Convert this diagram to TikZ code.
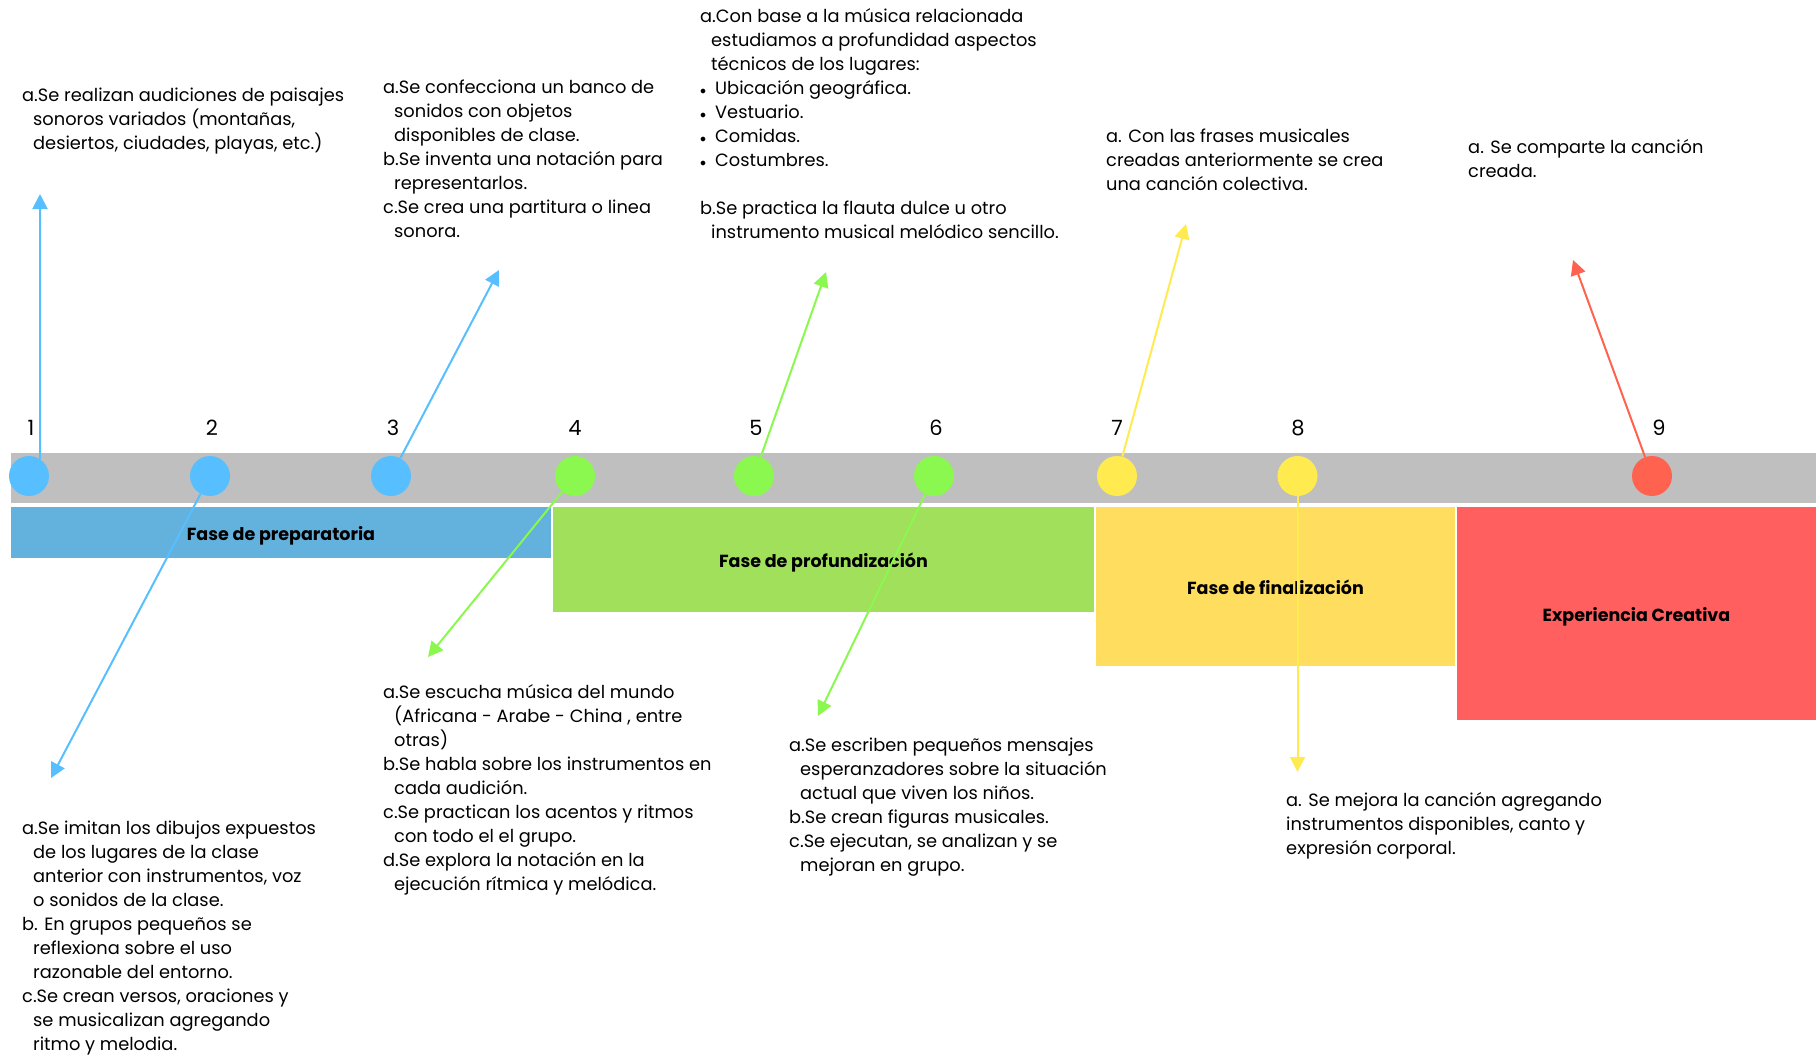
\documentclass[tikz,border=0pt]{standalone}
\usepackage{fontspec}
\setmainfont{Poppins}
\usepackage{xcolor}
\usepackage{tikz}
\usetikzlibrary{arrows.meta}

\definecolor{barra}{HTML}{BFBFBF}
\definecolor{azul}{HTML}{57BEFF}
\definecolor{azulfase}{HTML}{63B1DD}
\definecolor{verde}{HTML}{8AF84E}
\definecolor{verdefase}{HTML}{A0E05B}
\definecolor{amarillo}{HTML}{FFEB50}
\definecolor{amarillofase}{HTML}{FFDD5E}
\definecolor{rojo}{HTML}{FF6350}
\definecolor{rojofase}{HTML}{FF5F5F}

\newcommand{\ind}{\hspace*{11pt}}
\newcommand{\bul}{\makebox[15pt][l]{\fontsize{13}{13}\selectfont$\bullet$}}

\begin{document}
\begin{tikzpicture}[x=1pt,y=-1pt]
\tikzstyle{hito}=[circle, minimum size=40pt, inner sep=0pt]
\tikzstyle{numero}=[inner sep=0pt, font=\fontsize{21}{21}\selectfont]
\tikzstyle{fase}=[inner sep=0pt, text height=17.5pt, text depth=2pt, font=\fontsize{17.5}{20}\selectfont\bfseries]
\tikzstyle{texto}=[anchor=north west, align=left, inner sep=0pt, font=\fontsize{17.8}{24}\selectfont, execute at begin node=\strut]
\tikzstyle{flecha}=[line width=2pt, -{Triangle[length=15pt,width=15pt]}]

\useasboundingbox (0,0) rectangle (1820,1055);

\fill[barra] (11,453) rectangle (1816,503);

\node[fase, fill=azulfase, minimum width=540pt, minimum height=51pt] (f1) at (281,532.5) {Fase de preparatoria};
\node[fase, fill=verdefase, minimum width=541pt, minimum height=105pt] (f2) at (823.5,559.5) {Fase de profundización};
\node[fase, fill=amarillofase, minimum width=359pt, minimum height=159pt] (f3) at (1275.5,586.5) {Fase de finalización};
\node[fase, fill=rojofase, minimum width=359pt, minimum height=213pt] (f4) at (1636.5,613.5) {Experiencia Creativa};

\node[hito, fill=azul] (c1) at (29,476) {};
\node[hito, fill=azul] (c2) at (210,476) {};
\node[hito, fill=azul] (c3) at (391,476) {};
\node[hito, fill=verde] (c4) at (575,476) {};
\node[hito, fill=verde] (c5) at (754,476) {};
\node[hito, fill=verde] (c6) at (934,476) {};
\node[hito, fill=amarillo] (c7) at (1117,476) {};
\node[hito, fill=amarillo] (c8) at (1297.5,476) {};
\node[hito, fill=rojo] (c9) at (1652,476) {};

\node[numero] (n1) at (31,428) {1};
\node[numero] (n2) at (212,428) {2};
\node[numero] (n3) at (393,428) {3};
\node[numero] (n4) at (575,428) {4};
\node[numero] (n5) at (756,428) {5};
\node[numero] (n6) at (936,428) {6};
\node[numero] (n7) at (1117,428) {7};
\node[numero] (n8) at (1298,428) {8};
\node[numero] (n9) at (1659,428) {9};

\node[texto] (a1) at (22,88) {a.Se realizan audiciones de paisajes\\
\ind sonoros variados (montañas,\\
\ind desiertos, ciudades, playas, etc.)};
\node[texto] (a2) at (383,79.8) {a.Se confecciona un banco de\\
\ind sonidos con objetos\\
\ind disponibles de clase.\\
b.Se inventa una notación para\\
\ind representarlos.\\
c.Se crea una partitura o linea\\
\ind sonora.};
\node[texto] (a3) at (700,7.9) {a.Con base a la música relacionada\\
\ind estudiamos a profundidad aspectos\\
\ind técnicos de los lugares:\\
\bul Ubicación geográfica.\\
\bul Vestuario.\\
\bul Comidas.\\
\bul Costumbres.\\[24pt]
b.Se practica la flauta dulce u otro\\
\ind instrumento musical melódico sencillo.};
\node[texto] (a4) at (1106,128.6) {a. Con las frases musicales\\
creadas anteriormente se crea\\
una canción colectiva.};
\node[texto] (a5) at (1468,139) {a. Se comparte la canción\\
creada.};
\node[texto] (b1) at (22,821.2) {a.Se imitan los dibujos expuestos\\
\ind de los lugares de la clase\\
\ind anterior con instrumentos, voz\\
\ind o sonidos de la clase.\\
b. En grupos pequeños se\\
\ind reflexiona sobre el uso\\
\ind razonable del entorno.\\
c.Se crean versos, oraciones y\\
\ind se musicalizan agregando\\
\ind ritmo y melodia.};
\node[texto] (b2) at (383,684.6) {a.Se escucha música del mundo\\
\ind (Africana - Arabe - China , entre\\
\ind otras)\\
b.Se habla sobre los instrumentos en\\
\ind cada audición.\\
c.Se practican los acentos y ritmos\\
\ind con todo el el grupo.\\
d.Se explora la notación en la\\
\ind ejecución rítmica y melódica.};
\node[texto] (b3) at (789,738) {a.Se escriben pequeños mensajes\\
\ind esperanzadores sobre la situación\\
\ind actual que viven los niños.\\
b.Se crean figuras musicales.\\
c.Se ejecutan, se analizan y se\\
\ind mejoran en grupo.};
\node[texto] (b4) at (1286,792.5) {a. Se mejora la canción agregando\\
instrumentos disponibles, canto y\\
expresión corporal.};

\coordinate (t1) at (40,194);
\coordinate (t2) at (51,778);
\coordinate (t3) at (499,270);
\coordinate (t4) at (428,657);
\coordinate (t5) at (826,272);
\coordinate (t6) at (818,716);
\coordinate (t7) at (1186,224);
\coordinate (t8) at (1297.5,772);
\coordinate (t9) at (1573,260);

\path[flecha]
(c1.57) edge[azul] (t1)
(c2) edge[azul] (t2)
(c3) edge[azul] (t3)
(c4) edge[verde] (t4)
(c5) edge[verde] (t5)
(c6) edge[verde] (t6)
(c7) edge[amarillo] (t7)
(c8) edge[amarillo] (t8)
(c9) edge[rojo] (t9);
\end{tikzpicture}
\end{document}
